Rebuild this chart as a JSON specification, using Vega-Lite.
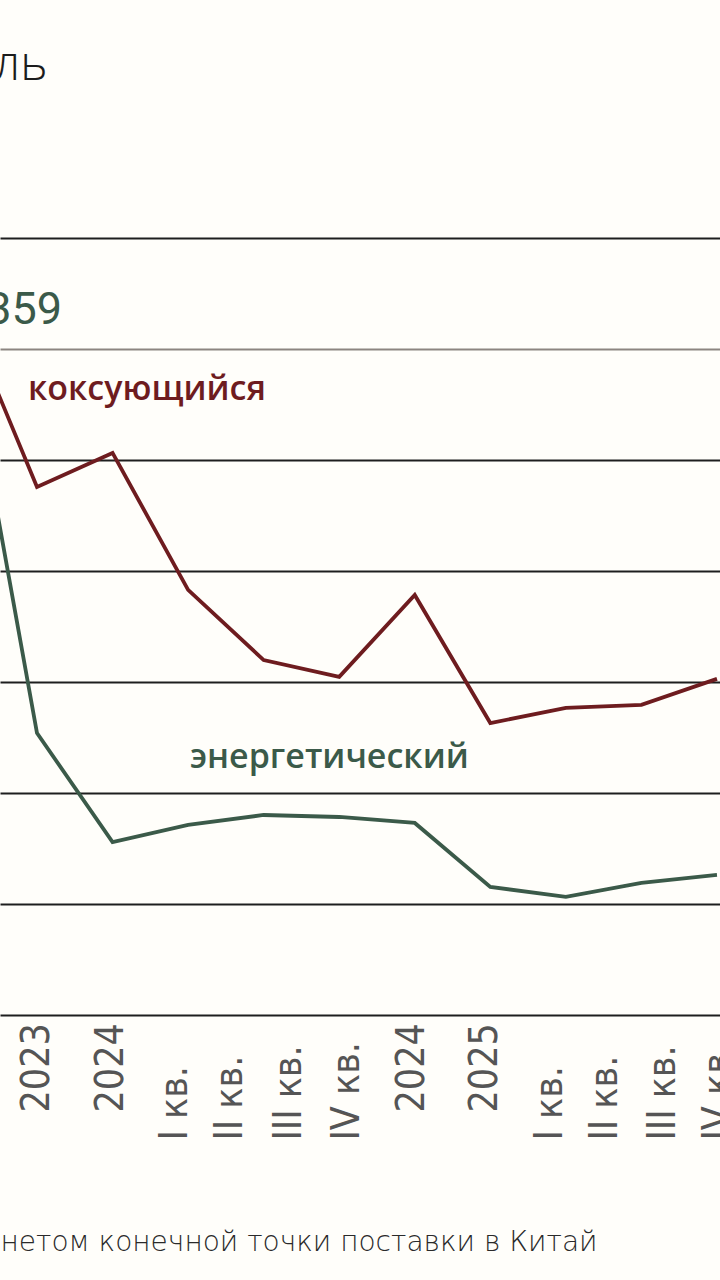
{
  "$schema": "https://vega.github.io/schema/vega-lite/v6.json",
  "autosize": {"type": "none"},
  "width": 720,
  "height": 777,
  "padding": {"left": 0, "top": 238, "right": 0, "bottom": 265},
  "background": "#fffefa",
  "title": {
    "text": "ль",
    "anchor": "start",
    "orient": "top",
    "frame": "group",
    "baseline": "alphabetic",
    "offset": 110,
    "dx": -6,
    "font": "Open Sans",
    "fontSize": 48,
    "fontWeight": 300,
    "color": "#1c1c1c"
  },
  "config": {
    "view": {"stroke": null}
  },
  "datasets": {
    "prices": [
      {"series": "коксующийся", "i": 0, "v": 369.8},
      {"series": "коксующийся", "i": 1, "v": 287.9},
      {"series": "коксующийся", "i": 2, "v": 303.2},
      {"series": "коксующийся", "i": 3, "v": 241.5},
      {"series": "коксующийся", "i": 4, "v": 209.9},
      {"series": "коксующийся", "i": 5, "v": 202.3},
      {"series": "коксующийся", "i": 6, "v": 239.2},
      {"series": "коксующийся", "i": 7, "v": 181.5},
      {"series": "коксующийся", "i": 8, "v": 188.3},
      {"series": "коксующийся", "i": 9, "v": 189.7},
      {"series": "коксующийся", "i": 10, "v": 201.4},
      {"series": "энергетический", "i": 0, "v": 365.8},
      {"series": "энергетический", "i": 1, "v": 177.0},
      {"series": "энергетический", "i": 2, "v": 127.9},
      {"series": "энергетический", "i": 3, "v": 135.6},
      {"series": "энергетический", "i": 4, "v": 140.1},
      {"series": "энергетический", "i": 5, "v": 139.2},
      {"series": "энергетический", "i": 6, "v": 136.5},
      {"series": "энергетический", "i": 7, "v": 107.7},
      {"series": "энергетический", "i": 8, "v": 103.2},
      {"series": "энергетический", "i": 9, "v": 109.5},
      {"series": "энергетический", "i": 10, "v": 113.1}
    ],
    "names": [
      {"series": "коксующийся", "i": 0.881, "v": 331.5, "text": "коксующийся"},
      {"series": "энергетический", "i": 3.025, "v": 165.8, "text": "энергетический"}
    ],
    "values": [
      {"series": "энергетический", "i": 1.331, "v": 367.6, "text": "359"}
    ]
  },
  "encoding": {
    "x": {
      "field": "i",
      "type": "quantitative",
      "scale": {"domain": [0.5103, 10.04], "nice": false, "zero": false},
      "axis": {
        "values": [1.0, 1.979, 2.826, 3.554, 4.335, 5.103, 5.963, 6.929, 7.789, 8.517, 9.285, 10.013],
        "labelExpr": "datum.value < 1.5 ? '2023' : datum.value < 2.4 ? '2024' : datum.value < 3.2 ? 'I кв.' : datum.value < 3.9 ? 'II кв.' : datum.value < 4.7 ? 'III кв.' : datum.value < 5.5 ? 'IV кв.' : datum.value < 6.5 ? '2024' : datum.value < 7.4 ? '2025' : datum.value < 8.1 ? 'I кв.' : datum.value < 8.9 ? 'II кв.' : datum.value < 9.6 ? 'III кв.' : 'IV кв.'",
        "labelAngle": -90,
        "labelAlign": "left",
        "labelBaseline": "middle",
        "labelPadding": {"condition": {"test": "datum.value < 2.4 || (datum.value > 5.5 && datum.value < 7.4)", "value": 97}, "value": 125},
        "labelFont": "Liberation Sans Narrow, DejaVu Sans Condensed, DejaVu Sans",
        "labelFontSize": 39,
        "labelFontWeight": 400,
        "labelColor": "#555555",
        "labelOverlap": false,
        "labelBound": false,
        "labelFlush": false,
        "domain": false,
        "ticks": false,
        "grid": false,
        "title": "нетом конечной точки поставки в Китай",
        "titleAnchor": "start",
        "titleAlign": "left",
        "titleBaseline": "alphabetic",
        "titleX": 0,
        "titleY": 235,
        "titleFont": "DejaVu Sans",
        "titleFontSize": 28,
        "titleFontWeight": 200,
        "titleColor": "#2a2a2a"
      }
    },
    "y": {
      "field": "v",
      "type": "quantitative",
      "scale": {"domain": [50, 400], "nice": false, "zero": false},
      "axis": {
        "values": [50, 100, 150, 200, 250, 300, 350, 400],
        "labels": false,
        "ticks": false,
        "domain": false,
        "title": null,
        "grid": true,
        "gridWidth": 2,
        "gridOpacity": 1,
        "gridColor": {"condition": {"test": "datum.value == 350", "value": "#8c8580"}, "value": "#1e1e1e"}
      }
    },
    "color": {
      "field": "series",
      "type": "nominal",
      "scale": {"domain": ["коксующийся", "энергетический"], "range": ["#6e1c1f", "#3b5a49"]},
      "legend": null
    }
  },
  "layer": [
    {
      "data": {"name": "prices"},
      "mark": {"type": "line", "strokeWidth": 3.8, "clip": true, "strokeJoin": "miter"}
    },
    {
      "data": {"name": "names"},
      "mark": {"type": "text", "align": "left", "baseline": "middle", "font": "Open Sans", "fontSize": 34, "fontWeight": 600},
      "encoding": {"text": {"field": "text"}}
    },
    {
      "data": {"name": "values"},
      "mark": {"type": "text", "align": "right", "baseline": "middle", "font": "Liberation Sans Narrow, Roboto", "fontSize": 45},
      "encoding": {"text": {"field": "text"}}
    }
  ]
}
